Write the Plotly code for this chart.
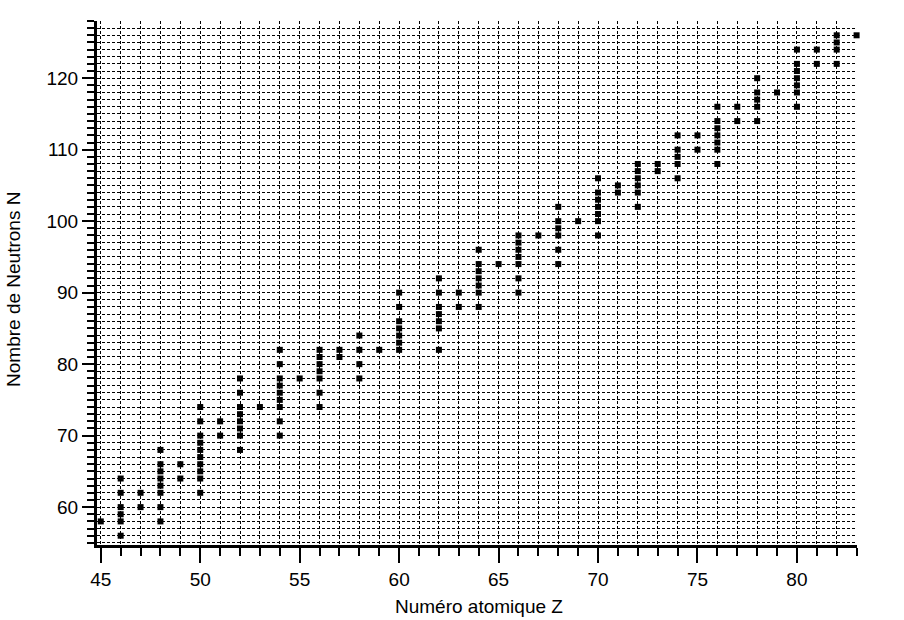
import plotly.graph_objects as go

# Stable nuclides: proton number Z and the neutron numbers N observed
Z_values = [45, 46, 47, 48, 49, 50, 51, 52, 53, 54, 55, 56, 57, 58, 59, 60,
            62, 63, 64, 65, 66, 67, 68, 69, 70, 71, 72, 73, 74, 75, 76, 77,
            78, 79, 80, 81, 82, 83]
N_lists = [
    [58],
    [56, 58, 59, 60, 62, 64],
    [60, 62],
    [58, 60, 62, 63, 64, 65, 66, 68],
    [64, 66],
    [62, 64, 65, 66, 67, 68, 69, 70, 72, 74],
    [70, 72],
    [68, 70, 71, 72, 73, 74, 76, 78],
    [74],
    [70, 72, 74, 75, 76, 77, 78, 80, 82],
    [78],
    [74, 76, 78, 79, 80, 81, 82],
    [81, 82],
    [78, 80, 82, 84],
    [82],
    [82, 83, 84, 85, 86, 88, 90],
    [82, 85, 86, 87, 88, 90, 92],
    [88, 90],
    [88, 90, 91, 92, 93, 94, 96],
    [94],
    [90, 92, 94, 95, 96, 97, 98],
    [98],
    [94, 96, 98, 99, 100, 102],
    [100],
    [98, 100, 101, 102, 103, 104, 106],
    [104, 105],
    [102, 104, 105, 106, 107, 108],
    [107, 108],
    [106, 108, 109, 110, 112],
    [110, 112],
    [108, 110, 111, 112, 113, 114, 116],
    [114, 116],
    [114, 116, 117, 118, 120],
    [118],
    [116, 118, 119, 120, 121, 122, 124],
    [122, 124],
    [122, 124, 125, 126],
    [126],
]

xs, ys = [], []
for z, ns in zip(Z_values, N_lists):
    for n in ns:
        xs.append(z)
        ys.append(n)

x_title = "Numéro atomique Z"
y_title = "Nombre de Neutrons N"

font_family = "Liberation Sans, Arial, sans-serif"

fig = go.Figure()
fig.add_trace(go.Scatter(
    x=xs, y=ys, mode="markers",
    marker=dict(symbol="square", size=6, color="black", line=dict(width=0)),
    cliponaxis=False, showlegend=False, hoverinfo="x+y",
))

grid_dash = "3px,2px"

fig.update_layout(
    width=904, height=620,
    margin=dict(l=97, r=47, t=21, b=75, autoexpand=False),
    paper_bgcolor="white", plot_bgcolor="white",
    font=dict(family=font_family, size=19, color="black"),
    xaxis=dict(
        range=[44.81, 83.02], tick0=45, dtick=5, automargin=False,
        showline=True, linewidth=3, linecolor="black",
        ticks="outside", ticklen=15, tickwidth=2, tickcolor="black",
        showgrid=True, gridcolor="black", gridwidth=1, griddash=grid_dash,
        zeroline=False,
        minor=dict(dtick=1, tick0=45, ticks="outside", ticklen=8, tickwidth=2,
                   tickcolor="black", showgrid=True, gridcolor="black",
                   gridwidth=1, griddash=grid_dash),
        tickfont=dict(size=19),
    ),
    yaxis=dict(
        range=[54.7, 128.0], tick0=60, dtick=10, automargin=False,
        showline=True, linewidth=3, linecolor="black",
        ticks="outside", ticklen=12, tickwidth=2, tickcolor="black",
        showgrid=True, gridcolor="black", gridwidth=1, griddash=grid_dash,
        zeroline=False,
        minor=dict(dtick=1, tick0=55, ticks="outside", ticklen=7, tickwidth=2,
                   tickcolor="black", showgrid=True, gridcolor="black",
                   gridwidth=1, griddash=grid_dash),
        tickfont=dict(size=19),
    ),
    annotations=[
        dict(text=x_title, xref="paper", yref="paper", x=0.503, y=-0.118,
             xanchor="center", yanchor="middle", showarrow=False,
             font=dict(size=19)),
        dict(text=y_title, xref="paper", yref="paper", x=-0.109, y=0.487,
             xanchor="center", yanchor="middle", showarrow=False,
             textangle=-90, font=dict(size=19)),
    ],
)

fig.write_html("out.html")
